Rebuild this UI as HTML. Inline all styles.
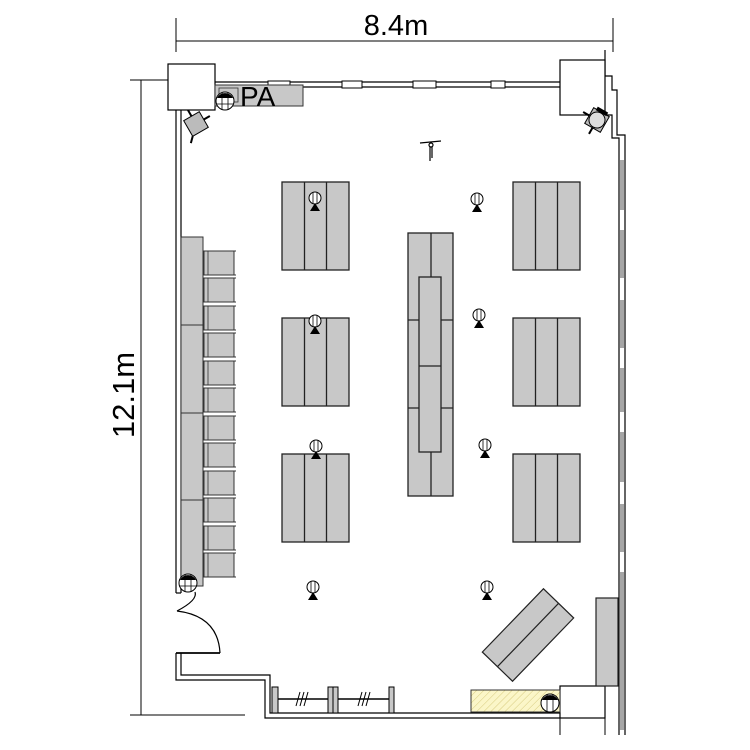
<!DOCTYPE html>
<html><head><meta charset="utf-8"><style>
html,body{margin:0;padding:0;background:#fff;}
svg{display:block;}
text{font-family:"Liberation Sans",sans-serif;}
</style></head><body>
<svg width="750" height="750" viewBox="0 0 750 750" xmlns="http://www.w3.org/2000/svg">
<defs>
<pattern id="hatch" width="5" height="5" patternUnits="userSpaceOnUse" patternTransform="rotate(45)">
<rect width="5" height="5" fill="#fbf6c8"/><line x1="0" y1="0" x2="0" y2="5" stroke="#d8cc80" stroke-width="1"/>
</pattern>
<g id="lamp">
<circle cx="0" cy="0" r="6" fill="#fff" stroke="#000" stroke-width="1"/>
<line x1="-2" y1="-6" x2="-2" y2="6" stroke="#000" stroke-width="0.8"/>
<line x1="2" y1="-6" x2="2" y2="6" stroke="#000" stroke-width="0.8"/>
<polygon points="-5,13 5,13 0,5" fill="#000"/>
</g>
<g id="chair">
<rect x="0" y="0" width="30" height="24" fill="#c8c8c8" stroke="#333" stroke-width="1"/>
<line x1="4" y1="0" x2="4" y2="24" stroke="#333" stroke-width="0.8"/>
<line x1="26" y1="0" x2="32" y2="0" stroke="#333"/>
<line x1="26" y1="24" x2="32" y2="24" stroke="#333"/>
</g>
<g id="tbl3">
<rect x="0" y="0" width="67" height="88" fill="#c8c8c8" stroke="#222" stroke-width="1.3"/>
<line x1="22.5" y1="0" x2="22.5" y2="88" stroke="#222" stroke-width="1.3"/>
<line x1="44.5" y1="0" x2="44.5" y2="88" stroke="#222" stroke-width="1.3"/>
</g>
</defs>

<!-- dimensions -->
<g stroke="#000" stroke-width="1" fill="none">
<line x1="176" y1="41" x2="613" y2="41"/>
<line x1="176" y1="18" x2="176" y2="52"/>
<line x1="613" y1="18" x2="613" y2="52"/>
<line x1="141" y1="80" x2="141" y2="715"/>
<line x1="130" y1="80" x2="168" y2="80"/>
<line x1="130" y1="715" x2="245" y2="715"/>
</g>
<text x="396" y="35" font-size="29" text-anchor="middle">8.4m</text>
<text x="0" y="0" font-size="31" text-anchor="middle" transform="translate(134,395) rotate(-90)">12.1m</text>

<!-- walls -->
<g stroke="#000" stroke-width="1.2" fill="none">
<line x1="176" y1="110" x2="176" y2="593"/>
<line x1="181" y1="110" x2="181" y2="593"/>
<line x1="176" y1="593" x2="181" y2="593"/>
<line x1="176" y1="653" x2="220" y2="653" stroke-width="1.8"/>
<path d="M177,611 Q198,600 195,592" />
<path d="M177,611 Q218,616 220,653"/>
<polyline points="176,653 176,680 265,680 265,718 560,718"/>
<polyline points="181,653 181,675 270,675 270,713 560,713"/>
<line x1="215" y1="82" x2="560" y2="82"/>
<line x1="215" y1="87" x2="560" y2="87"/>
<polyline points="605,115 612,115 612,138 619,138 619,735"/>
<polyline points="605,76 612,76 612,90 617,90 617,135 625,135 625,735"/>
<line x1="605" y1="50" x2="605" y2="76"/>
</g>
<g fill="#fff" stroke="#000" stroke-width="1">
<rect x="268" y="81" width="22" height="7"/>
<rect x="342" y="81" width="20" height="7"/>
<rect x="413" y="81" width="23" height="7"/>
<rect x="491" y="81" width="14" height="7"/>
</g>
<g stroke="#000" stroke-width="0.7">
<line x1="621" y1="160" x2="621" y2="730"/>
<line x1="623" y1="160" x2="623" y2="730"/>
</g>
<g fill="#fff">
<rect x="620" y="210" width="4" height="20"/>
<rect x="620" y="278" width="4" height="22"/>
<rect x="620" y="348" width="4" height="20"/>
<rect x="620" y="412" width="4" height="20"/>
<rect x="620" y="482" width="4" height="22"/>
<rect x="620" y="552" width="4" height="20"/>
</g>

<!-- columns -->
<rect x="168" y="64" width="47" height="46" fill="#fff" stroke="#000" stroke-width="1.2"/>
<rect x="560" y="60" width="45" height="55" fill="#fff" stroke="#000" stroke-width="1.2"/>
<rect x="560" y="686" width="45" height="32" fill="#fff" stroke="#000" stroke-width="1.2"/>
<line x1="560" y1="718" x2="560" y2="735" stroke="#000"/>
<line x1="605" y1="718" x2="605" y2="735" stroke="#000"/>

<!-- PA -->
<rect x="215" y="85" width="88" height="21" fill="#c8c8c8" stroke="#333" stroke-width="1"/>
<rect x="219" y="88" width="19" height="14" fill="#c8c8c8" stroke="#333" stroke-width="0.8"/>
<text x="240" y="106" font-size="28">PA</text>
<g transform="translate(225,101)">
<circle r="9" fill="#fff" stroke="#000"/>
<path d="M-8,-3 A9,9 0 0 1 8,-3 Z" fill="#000"/>
<line x1="-3" y1="-8" x2="-3" y2="8" stroke="#000" stroke-width="0.8"/>
<line x1="3" y1="-8" x2="3" y2="8" stroke="#000" stroke-width="0.8"/>
<line x1="-9" y1="3" x2="9" y2="3" stroke="#000" stroke-width="0.8"/>
</g>
<g transform="translate(196,124) rotate(-30)">
<rect x="-9" y="-9" width="18" height="18" fill="#bbb" stroke="#000"/>
<line x1="0" y1="-9" x2="0" y2="-16" stroke="#000" stroke-width="2"/>
<line x1="9" y1="0" x2="16" y2="0" stroke="#000" stroke-width="2"/>
<line x1="-9" y1="9" x2="-14" y2="14" stroke="#000" stroke-width="2"/>
</g>
<g transform="translate(597,120) rotate(30)">
<rect x="-9" y="-9" width="18" height="18" fill="#bbb" stroke="#000"/>
<circle r="8" fill="#ddd" stroke="#000"/>
<line x1="-9" y1="0" x2="-16" y2="0" stroke="#000" stroke-width="2"/>
<line x1="0" y1="9" x2="0" y2="16" stroke="#000" stroke-width="2"/>
<path d="M-6,-8 L6,-8 L6,-12 L-6,-12Z" fill="#000"/>
</g>
<g stroke="#000" stroke-width="1.2" fill="none">
<line x1="420" y1="143" x2="441" y2="141"/>
<circle cx="431" cy="145" r="2" fill="#fff"/>
<line x1="430" y1="147" x2="430" y2="161"/>
<line x1="432" y1="147" x2="432" y2="158"/>
</g>

<!-- tables -->
<use href="#tbl3" x="282" y="182"/>
<use href="#tbl3" x="282" y="318"/>
<use href="#tbl3" x="282" y="454"/>
<use href="#tbl3" x="513" y="182"/>
<use href="#tbl3" x="513" y="318"/>
<use href="#tbl3" x="513" y="454"/>
<g stroke="#222" stroke-width="1.3">
<rect x="408" y="233" width="45" height="263" fill="#c8c8c8"/>
<line x1="431" y1="233" x2="431" y2="496"/>
<line x1="408" y1="320" x2="453" y2="320"/>
<line x1="408" y1="408" x2="453" y2="408"/>
<rect x="419" y="277" width="22" height="175" fill="#c8c8c8"/>
<line x1="419" y1="366" x2="441" y2="366"/>
</g>
<g transform="translate(528,635) rotate(-46)" stroke="#222" stroke-width="1.2">
<rect x="-44" y="-21" width="88" height="42" fill="#c8c8c8"/>
<line x1="-44" y1="0" x2="44" y2="0"/>
</g>
<rect x="596" y="598" width="22" height="88" fill="#c8c8c8" stroke="#222" stroke-width="1.2"/>
<rect x="471" y="690" width="89" height="22" fill="url(#hatch)" stroke="#333" stroke-width="1"/>
<g transform="translate(550,703)">
<circle r="9" fill="#fff" stroke="#000"/>
<path d="M-8,-3 A9,9 0 0 1 8,-3 Z" fill="#000"/>
<line x1="-3" y1="-8" x2="-3" y2="8" stroke="#000" stroke-width="0.8"/>
<line x1="3" y1="-8" x2="3" y2="8" stroke="#000" stroke-width="0.8"/>
</g>
<g stroke="#000" stroke-width="1">
<line x1="276" y1="699" x2="394" y2="699" stroke-width="1.5"/>
<rect x="272" y="687" width="6" height="26" fill="#c8c8c8"/>
<rect x="328" y="687" width="5" height="26" fill="#c8c8c8"/>
<rect x="333" y="687" width="5" height="26" fill="#c8c8c8"/>
<rect x="389" y="687" width="5" height="26" fill="#c8c8c8"/>
<line x1="296" y1="706" x2="300" y2="692"/>
<line x1="300" y1="706" x2="304" y2="692"/>
<line x1="304" y1="706" x2="308" y2="692"/>
<line x1="358" y1="706" x2="362" y2="692"/>
<line x1="362" y1="706" x2="366" y2="692"/>
<line x1="366" y1="706" x2="370" y2="692"/>
</g>

<g stroke="#333" stroke-width="1">
<rect x="181" y="237" width="22" height="349" fill="#c8c8c8"/>
<line x1="181" y1="325" x2="203" y2="325"/>
<line x1="181" y1="413" x2="203" y2="413"/>
<line x1="181" y1="500" x2="203" y2="500"/>
</g>
<use href="#chair" x="204" y="251"/>
<use href="#chair" x="204" y="278"/>
<use href="#chair" x="204" y="306"/>
<use href="#chair" x="204" y="333"/>
<use href="#chair" x="204" y="361"/>
<use href="#chair" x="204" y="388"/>
<use href="#chair" x="204" y="416"/>
<use href="#chair" x="204" y="443"/>
<use href="#chair" x="204" y="471"/>
<use href="#chair" x="204" y="498"/>
<use href="#chair" x="204" y="526"/>
<use href="#chair" x="204" y="553"/>
<g transform="translate(188,583)">
<circle r="9" fill="#fff" stroke="#000"/>
<path d="M-8,-3 A9,9 0 0 1 8,-3 Z" fill="#000"/>
<line x1="-3" y1="-8" x2="-3" y2="8" stroke="#000" stroke-width="0.8"/>
<line x1="3" y1="-8" x2="3" y2="8" stroke="#000" stroke-width="0.8"/>
<line x1="-9" y1="3" x2="9" y2="3" stroke="#000" stroke-width="0.8"/>
</g>

<use href="#lamp" x="315" y="198"/>
<use href="#lamp" x="477" y="199"/>
<use href="#lamp" x="315" y="321"/>
<use href="#lamp" x="479" y="315"/>
<use href="#lamp" x="316" y="446"/>
<use href="#lamp" x="485" y="445"/>
<use href="#lamp" x="313" y="587"/>
<use href="#lamp" x="487" y="587"/>
</svg>
</body></html>
